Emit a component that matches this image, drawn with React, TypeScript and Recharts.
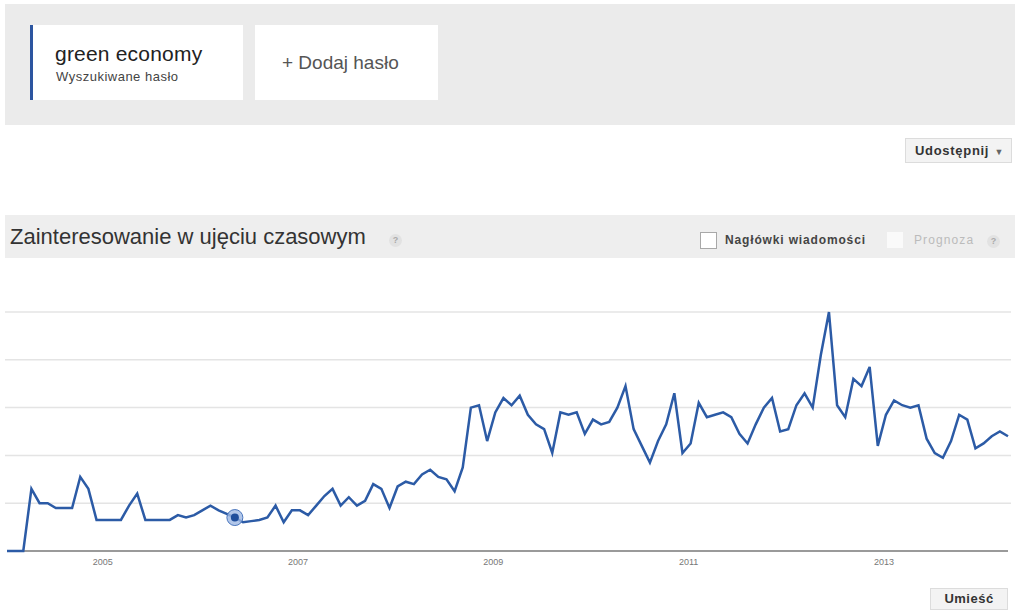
import React from 'react';
import { LineChart, Line, XAxis, YAxis, CartesianGrid, ReferenceDot } from 'recharts';

// monthly search interest, Jan 2004 .. Apr 2014 (peak = 100)
const y2004 = [0, 0, 0, 26, 20, 20, 18, 18, 18, 31, 26, 13];
const y2005 = [13, 13, 13, 19, 24, 13, 13, 13, 13, 15, 14, 15];
const y2006 = [17, 19, 17, 15.5, 14, 12, 12.5, 13, 14, 19, 12, 17];
const y2007 = [17, 15, 19, 23, 26, 19, 22.5, 19, 21, 28, 26, 18];
const y2008 = [27, 29, 28, 32, 34, 31, 30, 25, 35, 60, 61, 46];
const y2009 = [58, 64, 61, 65, 57, 53, 51, 41, 58, 57, 58, 49];
const y2010 = [55, 53, 54, 60, 69, 51, 44, 37, 46, 53, 66, 41];
const y2011 = [45, 62, 56, 57, 58, 56, 49, 45, 53, 60, 64, 50];
const y2012 = [51, 61, 66, 60, 82, 100, 61, 56, 72, 69, 77, 44];
const y2013 = [57, 63, 61, 60, 61, 47, 41, 39, 46, 57, 55, 43];
const y2014 = [45, 48, 50, 48];

const years = [2004, 2005, 2006, 2007, 2008, 2009, 2010, 2011, 2012, 2013, 2014];
const yearValues = [y2004, y2005, y2006, y2007, y2008, y2009, y2010, y2011, y2012, y2013, y2014];

const yearTicks = ['2005-01', '2007-01', '2009-01', '2011-01', '2013-01'];
const gridTicks = [0, 20, 40, 60, 80, 100];

const highlightMonth = '2006-05';
const highlightValue = 14;

const data = years.flatMap((yr, k) =>
  yearValues[k].map((v, m) => ({
    month: `${yr}-${String(m + 1).padStart(2, '0')}`,
    value: v,
  }))
);

const font = '"Liberation Sans", Arial, sans-serif';

function Help({ left, top }: { left: number; top: number }) {
  return (
    <div
      style={{
        position: 'absolute', left, top, width: 13, height: 13, borderRadius: 7,
        background: '#e2e2e2', color: '#aaa', fontSize: 9, fontWeight: 'bold',
        textAlign: 'center', lineHeight: '13px',
      }}
    >
      ?
    </div>
  );
}

// grid lines under the series; the bottom one doubles as the axis line
const gridLine = (p: any) => {
  const isBase = p.y1 >= 270;
  return (
    <line
      key={`g-${p.y1}`}
      x1={isBase ? p.x1 : p.x1 - 2}
      x2={isBase ? p.x2 : p.x2 + 3}
      y1={p.y1}
      y2={p.y2}
      stroke={isBase ? '#9a9a9a' : '#e4e4e4'}
      strokeWidth={isBase ? 2 : 1.5}
    />
  );
};

export default function App() {
  return (
    <div style={{ position: 'absolute', left: 0, top: 0, width: 1015, height: 611, background: '#fff', fontFamily: font, overflow: 'hidden' }}>
      {/* search terms band */}
      <div style={{ position: 'absolute', left: 5, top: 4, width: 1010, height: 121, background: '#ebebeb' }} />
      <div style={{ position: 'absolute', left: 30, top: 25, width: 213, height: 75, background: '#fff', borderLeft: '3px solid #2c55a0', boxSizing: 'border-box' }}>
        <div style={{ position: 'absolute', left: 22, top: 17, fontSize: 21, color: '#222', whiteSpace: 'nowrap', letterSpacing: 0.2 }}>green economy</div>
        <div style={{ position: 'absolute', left: 23, top: 44, fontSize: 13, color: '#444', whiteSpace: 'nowrap', letterSpacing: 0.5 }}>Wyszukiwane hasło</div>
      </div>
      <div style={{ position: 'absolute', left: 255, top: 25, width: 183, height: 75, background: '#fff' }}>
        <div style={{ position: 'absolute', left: 27, top: 27, fontSize: 19, color: '#555', whiteSpace: 'nowrap' }}>+ Dodaj hasło</div>
      </div>

      {/* share button */}
      <div style={{ position: 'absolute', left: 905, top: 138, width: 107, height: 25, background: '#f3f3f3', border: '1px solid #dcdcdc', boxSizing: 'border-box', fontSize: 13, fontWeight: 'bold', color: '#333', lineHeight: '23px', paddingLeft: 9, letterSpacing: 0.7, whiteSpace: 'nowrap' }}>
        Udostępnij <span style={{ fontSize: 9, color: '#666', marginLeft: 1 }}>▼</span>
      </div>

      {/* title bar */}
      <div style={{ position: 'absolute', left: 5, top: 215, width: 1010, height: 43, background: '#eeeeee' }} />
      <div style={{ position: 'absolute', left: 10, top: 224, fontSize: 22, color: '#333', whiteSpace: 'nowrap' }}>Zainteresowanie w ujęciu czasowym</div>
      <Help left={389} top={234} />
      <div style={{ position: 'absolute', left: 700, top: 232, width: 15, height: 15, border: '1px solid #a8a8a8', background: '#fff' }} />
      <div style={{ position: 'absolute', left: 725, top: 233, fontSize: 12, fontWeight: 'bold', color: '#444', letterSpacing: 0.85, whiteSpace: 'nowrap' }}>Nagłówki wiadomości</div>
      <div style={{ position: 'absolute', left: 887, top: 232, width: 16, height: 16, background: '#fafafa' }} />
      <div style={{ position: 'absolute', left: 914, top: 233, fontSize: 12, color: '#bbb', letterSpacing: 1.1, whiteSpace: 'nowrap' }}>Prognoza</div>
      <Help left={987} top={235} />

      {/* chart */}
      <div style={{ position: 'absolute', left: 0, top: 280 }}>
        <LineChart width={1015} height={300} data={data} margin={{ top: 32, right: 7, left: 7, bottom: 9 }}>
          <CartesianGrid vertical={false} horizontal={gridLine} />
          <XAxis
            dataKey="month"
            ticks={yearTicks}
            interval={0}
            tickFormatter={(m: string) => m.slice(0, 4)}
            tickLine={false}
            tickSize={5}
            tickMargin={3}
            height={20}
            axisLine={false}
            tick={{ fontSize: 9, fill: '#777', fontFamily: font, dx: -2 }}
          />
          <YAxis hide domain={[0, 100]} ticks={gridTicks} />
          <Line
            type="linear"
            dataKey="value"
            stroke="#2c5ba6"
            strokeWidth={2.5}
            dot={false}
            activeDot={false}
            isAnimationActive={false}
          />
          <ReferenceDot x={highlightMonth} y={highlightValue} r={8} fill="#9db8e4" fillOpacity={0.8} stroke="#4a76bd" strokeWidth={1} />
          <ReferenceDot x={highlightMonth} y={highlightValue} r={4} fill="#1f4e9c" stroke="none" />
        </LineChart>
      </div>

      {/* embed button */}
      <div style={{ position: 'absolute', left: 930, top: 588, width: 78, height: 22, background: '#f3f3f3', border: '1px solid #dcdcdc', boxSizing: 'border-box', fontSize: 13, fontWeight: 'bold', color: '#333', lineHeight: '20px', textAlign: 'center', letterSpacing: 0.5 }}>
        Umieść
      </div>
    </div>
  );
}
